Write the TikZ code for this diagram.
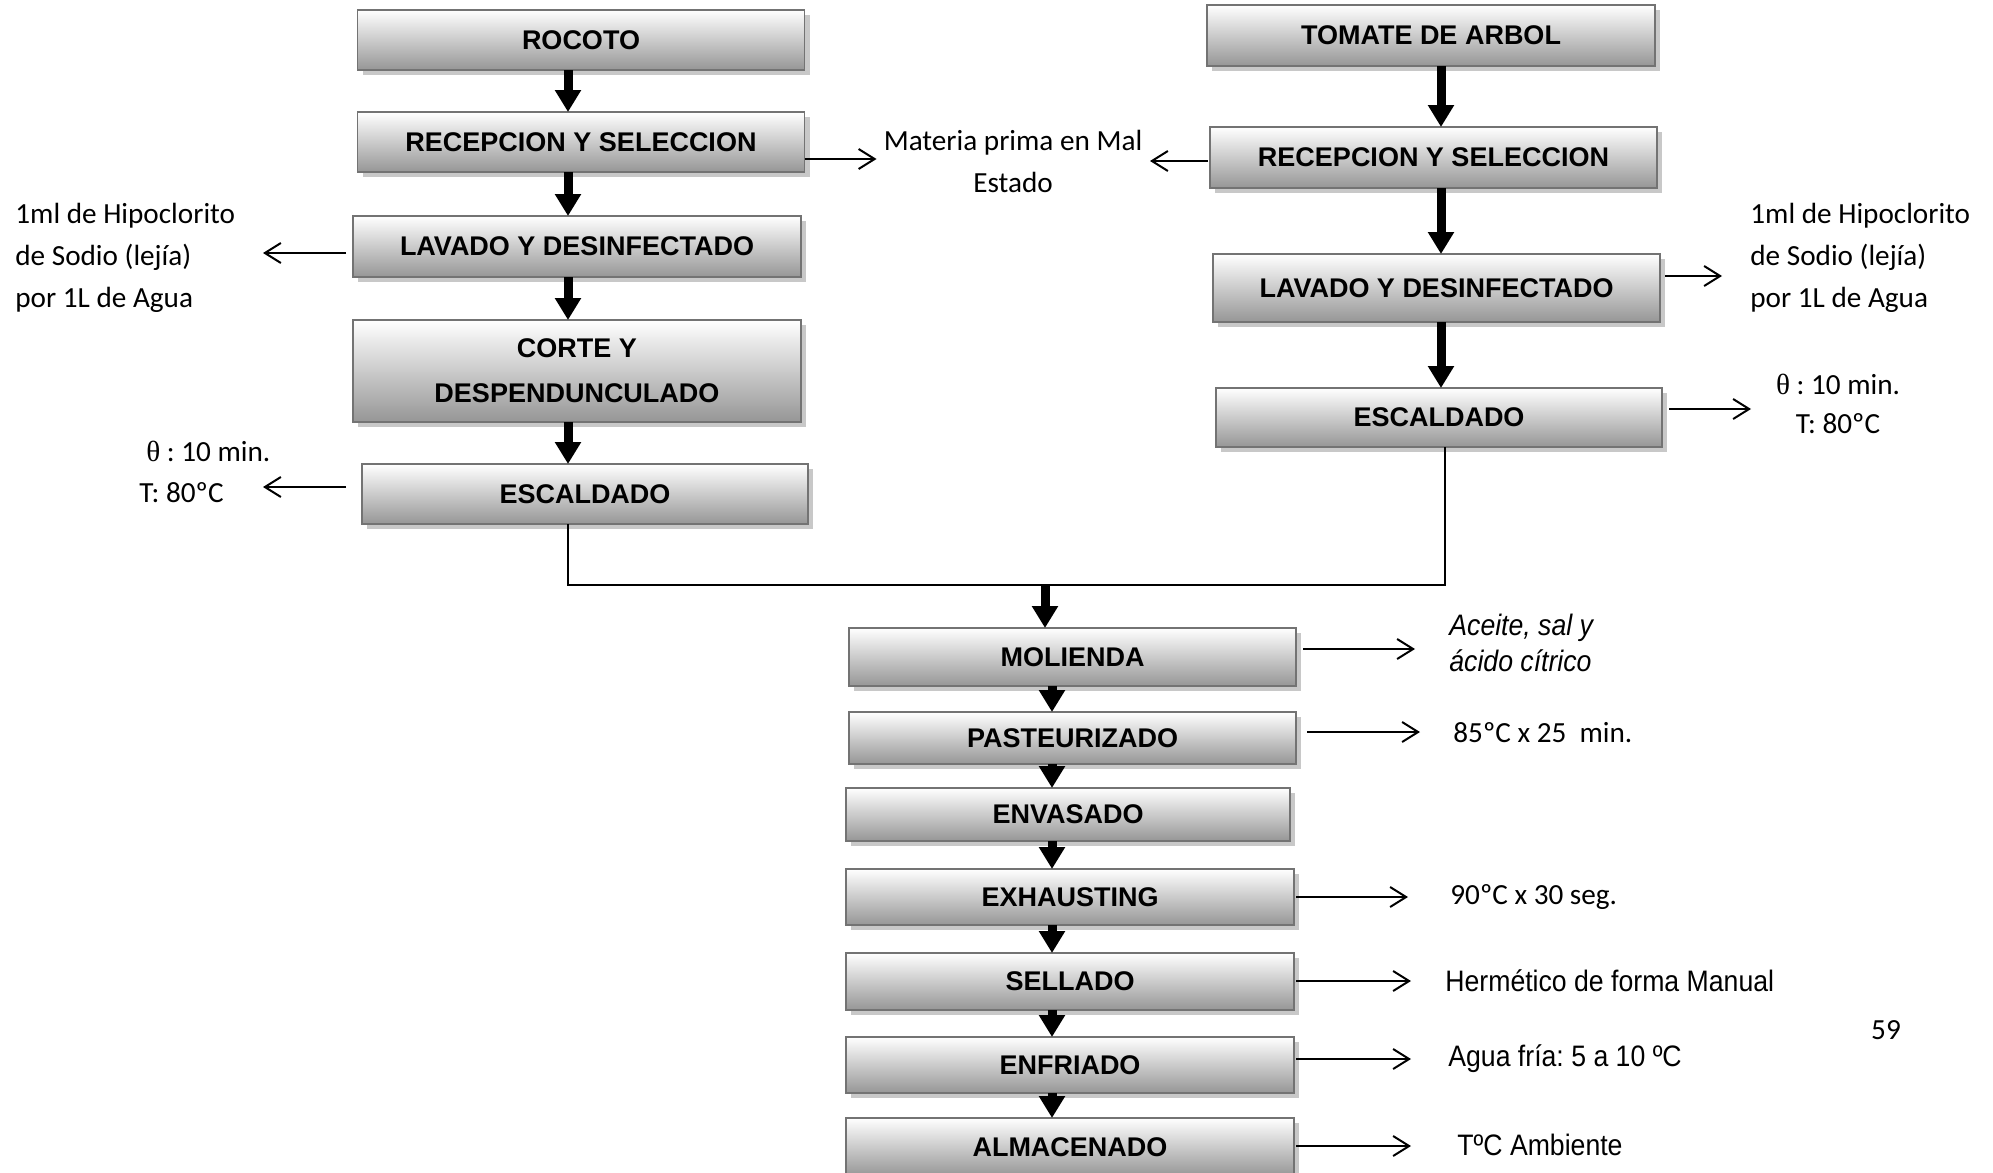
\documentclass[tikz,border=0pt]{standalone}
\usepackage{fontspec}
\setmainfont{Liberation Sans}
\newfontfamily\calibri{Carlito}
\newfontfamily\simb{Liberation Serif}
\newfontfamily\arialn[FakeStretch=0.9]{Liberation Sans}
\usetikzlibrary{arrows.meta,shadows}
\frenchspacing
\definecolor{bordegris}{RGB}{115,115,115}
\definecolor{grisbajo}{RGB}{150,150,150}
\definecolor{sombra}{RGB}{200,200,200}
\tikzset{
  paso/.style={rectangle, draw=bordegris, line width=0.8pt, top color=white, bottom color=grisbajo,
    drop shadow={shadow xshift=2.5pt, shadow yshift=-2.5pt, fill=sombra, opacity=1},
    minimum width=223.5pt, inner sep=0pt, outer sep=0pt, align=center,
    font=\bfseries\fontsize{13.5}{22.5}\selectfont},
  flechagruesa/.style={line width=4.5pt, -{Triangle[width=12.5pt,length=11pt]}},
  flecha/.style={line width=1pt, -{Straight Barb[length=8pt,width=10pt]}},
  nota/.style={inner sep=0pt, font=\calibri\fontsize{14.6}{21}\selectfont},
  notab/.style={inner sep=0pt, font=\arialn\fontsize{14.8}{18}\selectfont}
}
\begin{document}
\begin{tikzpicture}[x=0.5pt,y=-0.5pt]
    \useasboundingbox (0,0) rectangle (1993,1173);
    \coordinate (xl) at (568,0);
    \coordinate (xr) at (1441,0);
    \coordinate (xu) at (1445,0);
    \coordinate (xc) at (1052,0);
    \coordinate (union) at (1045,585);

    \node [paso, minimum height=30pt] (rocoto) at (581,40) {ROCOTO};
    \node [paso, minimum height=30pt] (recL) at (581,142) {RECEPCION Y SELECCION};
    \node [paso, minimum width=224pt, minimum height=30.5pt] (lavL) at (577,246.5) {LAVADO Y DESINFECTADO};
    \node [paso, minimum width=224pt, minimum height=51pt] (corte) at (577,371) {CORTE Y\\DESPENDUNCULADO};
    \node [paso, minimum width=223pt, minimum height=30pt] (escL) at (585,494) {ESCALDADO};

    \node [paso, minimum width=224pt, minimum height=30.5pt] (tomate) at (1431,35.5) {TOMATE DE ARBOL};
    \node [paso, minimum height=30.5pt] (recR) at (1433.5,157.5) {RECEPCION Y SELECCION};
    \node [paso, minimum height=34pt] (lavR) at (1436.5,288) {LAVADO Y DESINFECTADO};
    \node [paso, minimum width=223pt, minimum height=29.5pt] (escR) at (1439,417.5) {ESCALDADO};

    \node [paso, minimum height=29pt] (mol) at (1072.5,657) {MOLIENDA};
    \node [paso, minimum height=26pt] (pas) at (1072.5,738) {PASTEURIZADO};
    \node [paso, minimum width=222pt, minimum height=26.5pt] (env) at (1068,814.5) {ENVASADO};
    \node [paso, minimum width=224pt, minimum height=28pt] (exh) at (1070,897) {EXHAUSTING};
    \node [paso, minimum width=224pt, minimum height=28.5pt] (sel) at (1070,981.5) {SELLADO};
    \node [paso, minimum width=224pt, minimum height=28pt] (enf) at (1070,1065) {ENFRIADO};
    \node [paso, minimum width=224pt, minimum height=29pt] (alm) at (1070,1147) {ALMACENADO};

    \draw [flechagruesa] (rocoto.south -| xl) -- (recL.north -| xl);
    \draw [flechagruesa] (recL.south -| xl) -- (lavL.north -| xl);
    \draw [flechagruesa] (lavL.south -| xl) -- (corte.north -| xl);
    \draw [flechagruesa] (corte.south -| xl) -- (escL.north -| xl);
    \draw [flechagruesa] (tomate.south -| xr) -- (recR.north -| xr);
    \draw [flechagruesa] (recR.south -| xr) -- (lavR.north -| xr);
    \draw [flechagruesa] (lavR.south -| xr) -- (escR.north -| xr);

    \draw [line width=0.8pt] (escL.south -| xl) |- (union) -| (escR.south -| xu);
    \draw [flechagruesa] (union) -- (mol.north -| union);
    \draw [flechagruesa] (mol.south -| xc) -- (pas.north -| xc);
    \draw [flechagruesa] (pas.south -| xc) -- (env.north -| xc);
    \draw [flechagruesa] (env.south -| xc) -- (exh.north -| xc);
    \draw [flechagruesa] (exh.south -| xc) -- (sel.north -| xc);
    \draw [flechagruesa] (sel.south -| xc) -- (enf.north -| xc);
    \draw [flechagruesa] (enf.south -| xc) -- (alm.north -| xc);

    \node [nota, align=center] (mala) at (1013,161) {Materia prima en Mal\\Estado};
    \node [nota, anchor=west, align=left] (hipoL) at (15,258) {1ml de Hipoclorito\\de Sodio (lejía)\\por 1L de Agua};
    \node [nota, anchor=west, align=left, font=\calibri\fontsize{14.6}{20.5}\selectfont] (tempL) at (139,472) {\hspace*{3.5pt}{\simb θ} : 10 min.\\T: 80ºC};
    \node [nota, anchor=west, align=left] (hipoR) at (1750,258) {1ml de Hipoclorito\\de Sodio (lejía)\\por 1L de Agua};
    \node [nota, align=center, font=\calibri\fontsize{14.6}{19.5}\selectfont] (tempR) at (1838,404) {{\simb θ} : 10 min.\\T: 80ºC};
    \node [notab, anchor=west, align=left, font=\arialn\itshape\fontsize{14.8}{18}\selectfont] (aceite) at (1449,643) {Aceite, sal y\\ácido cítrico};
    \node [nota, anchor=west] (t85) at (1453,733) {85ºC x 25~ min.};
    \node [nota, anchor=west] (t90) at (1450,897) {90ºC x 30 seg.};
    \node [notab, anchor=west] (herm) at (1445,981) {Hermético de forma Manual};
    \node [notab, anchor=west] (agua) at (1448,1059) {Agua fría: 5 a 10 ºC};
    \node [notab, anchor=west] (amb) at (1457,1145) {TºC Ambiente};
    \node [nota] (pagina) at (1886,1030) {59};

    \draw [flecha] (recL.east) ++(0,17) -- ++(72,0);
    \draw [flecha] (recR.west) ++(-2,3.5) -- ++(-58,0);
    \draw [flecha] (lavL.west) ++(-7,6.5) -- ++(-83,0);
    \draw [flecha] (escL.west) ++(-16,-7) -- ++(-83,0);
    \draw [flecha] (lavR.east) ++(5,-12) -- ++(57,0);
    \draw [flecha] (escR.east) ++(7,-8.5) -- ++(82,0);
    \draw [flecha] (mol.east) ++(7,-8) -- ++(112,0);
    \draw [flecha] (pas.east) ++(11,-6) -- ++(113,0);
    \draw [flecha] (exh.east) ++(2,0) -- ++(112,0);
    \draw [flecha] (sel.east) ++(2,-0.5) -- ++(115,0);
    \draw [flecha] (enf.east) ++(2,-6) -- ++(115,0);
    \draw [flecha] (alm.east) ++(2,-1) -- ++(115,0);
\end{tikzpicture}
\end{document}
